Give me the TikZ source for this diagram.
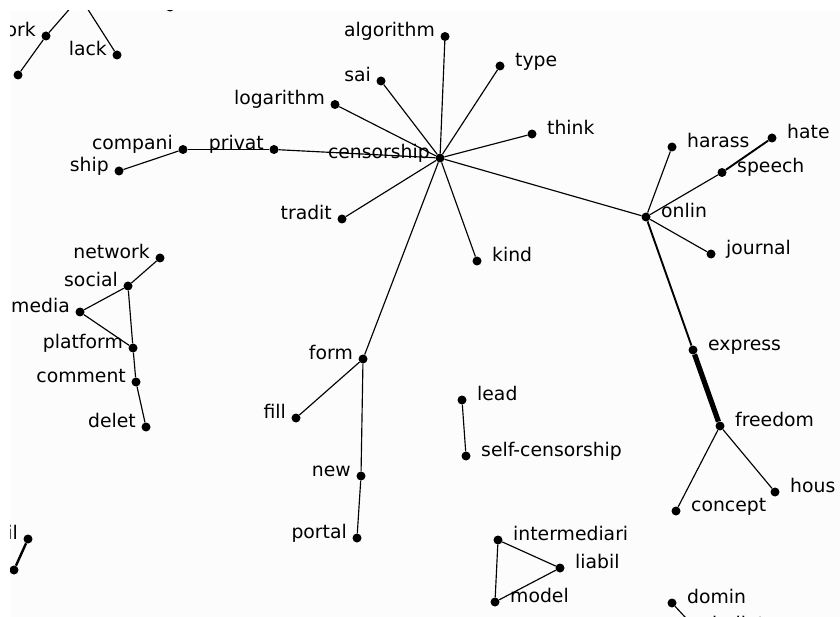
\documentclass[tikz,border=0pt]{standalone}
\usepackage{fontspec}
\newfontfamily\wordfont{DejaVu Sans}
\definecolor{plotbg}{RGB}{252,252,252}
\begin{document}
\begin{tikzpicture}[x=1pt,y=-1pt,
  dot/.style={circle, fill=black, inner sep=0pt, minimum size=9pt},
  lbl/.style={inner sep=0pt, text=black, font=\wordfont\fontsize{18.8pt}{22pt}\selectfont},
  link/.style={line width=1.15pt, black},
  midlink/.style={line width=1.9pt, black},
  heavylink/.style={line width=5.2pt, black}]
\newcommand\wordL[4]{%
  \node[dot] (#1) at (#2,#3) {};
  \node[lbl, anchor=base east] (#1-t) at (#2-10,#3+0.5) {#4};}
\newcommand\wordR[4]{%
  \node[dot] (#1) at (#2,#3) {};
  \node[lbl, anchor=base west] (#1-t) at (#2+15,#3+0.5) {#4};}
\useasboundingbox (0,0) rectangle (840,617);
\fill[white] (0,0) rectangle (840,617);
\fill[plotbg] (10,11) rectangle (840,617);
\begin{scope}
\clip (10,11) rectangle (840,617);
% hub and its spokes
\wordL{cens}{440}{158}{censorship}
\wordL{algo}{445}{36.5}{algorithm}
\wordL{sai}{381}{81}{sai}
\wordR{type}{500}{66}{type}
\wordL{loga}{335}{104.5}{logarithm}
\wordR{think}{532}{134}{think}
\wordL{tradit}{342}{219}{tradit}
\wordR{kind}{477}{261}{kind}
\wordL{privat}{274}{149.5}{privat}
\wordL{compani}{183}{149.5}{compani}
\wordL{ship}{119}{171}{ship}
\wordL{form}{363}{359}{form}
\wordL{fill}{296}{418}{fill}
\wordL{new}{361}{476}{new}
\wordL{portal}{357}{538}{portal}
% online branch
\wordR{onlin}{646}{217}{onlin}
\wordR{harass}{672}{147}{harass}
\wordR{hate}{772}{138}{hate}
\wordR{speech}{722}{172.5}{speech}
\wordR{journal}{711}{254}{journal}
\wordR{express}{693}{350}{express}
\wordR{freedom}{720}{426}{freedom}
\wordR{concept}{676}{511}{concept}
\wordR{hous}{775}{492}{hous}
% small clusters
\wordL{network}{160}{258}{network}
\wordL{social}{128}{286}{social}
\wordL{media}{80}{312}{media}
\wordL{platform}{133}{348}{platform}
\wordL{comment}{136}{382}{comment}
\wordL{delet}{146}{427}{delet}
\wordR{lead}{462}{400}{lead}
\wordR{selfc}{466}{456}{self-censorship}
\wordR{interm}{498}{540}{intermediari}
\wordR{liabil}{560}{568}{liabil}
\wordR{model}{495}{602}{model}
\wordR{domin}{672}{603}{domin}
\wordR{ballot}{697}{630}{ballot}
\wordL{work}{46}{36}{network}
\wordL{lack}{117}{55}{lack}
\node[dot] (corner) at (18,75) {};
\node[dot] (topdot) at (170,7) {};
\coordinate (above) at (80,-3);
\wordL{email}{28}{539}{email}
\node[dot] (lowleft) at (14,570) {};
% connectors
\foreach \t in {algo,sai,type,loga,think,tradit,kind,privat,form,onlin}
  \draw[link] (cens) -- (\t);
\draw[link] (privat) -- (compani);
\draw[link] (compani) -- (ship);
\draw[link] (form) -- (fill);
\draw[link] (form) -- (new);
\draw[link] (new) -- (portal);
\draw[link] (onlin) -- (harass);
\draw[link] (onlin) -- (speech);
\draw[midlink] (speech) -- (hate);
\draw[link] (onlin) -- (journal);
\draw[midlink] (onlin) -- (express);
\draw[heavylink] (express) -- (freedom);
\draw[link] (freedom) -- (concept);
\draw[link] (freedom) -- (hous);
\draw[link] (network) -- (social);
\draw[link] (social) -- (media);
\draw[link] (social) -- (platform);
\draw[link] (media) -- (platform);
\draw[link] (platform) -- (comment);
\draw[link] (comment) -- (delet);
\draw[link] (lead) -- (selfc);
\draw[link] (interm) -- (liabil);
\draw[link] (interm) -- (model);
\draw[link] (liabil) -- (model);
\draw[link] (domin) -- (ballot);
\draw[link] (work) -- (above);
\draw[link] (lack) -- (above);
\draw[link] (work) -- (corner);
\draw[line width=2.4pt] (email) -- (lowleft);
\end{scope}
\end{tikzpicture}
\end{document}
